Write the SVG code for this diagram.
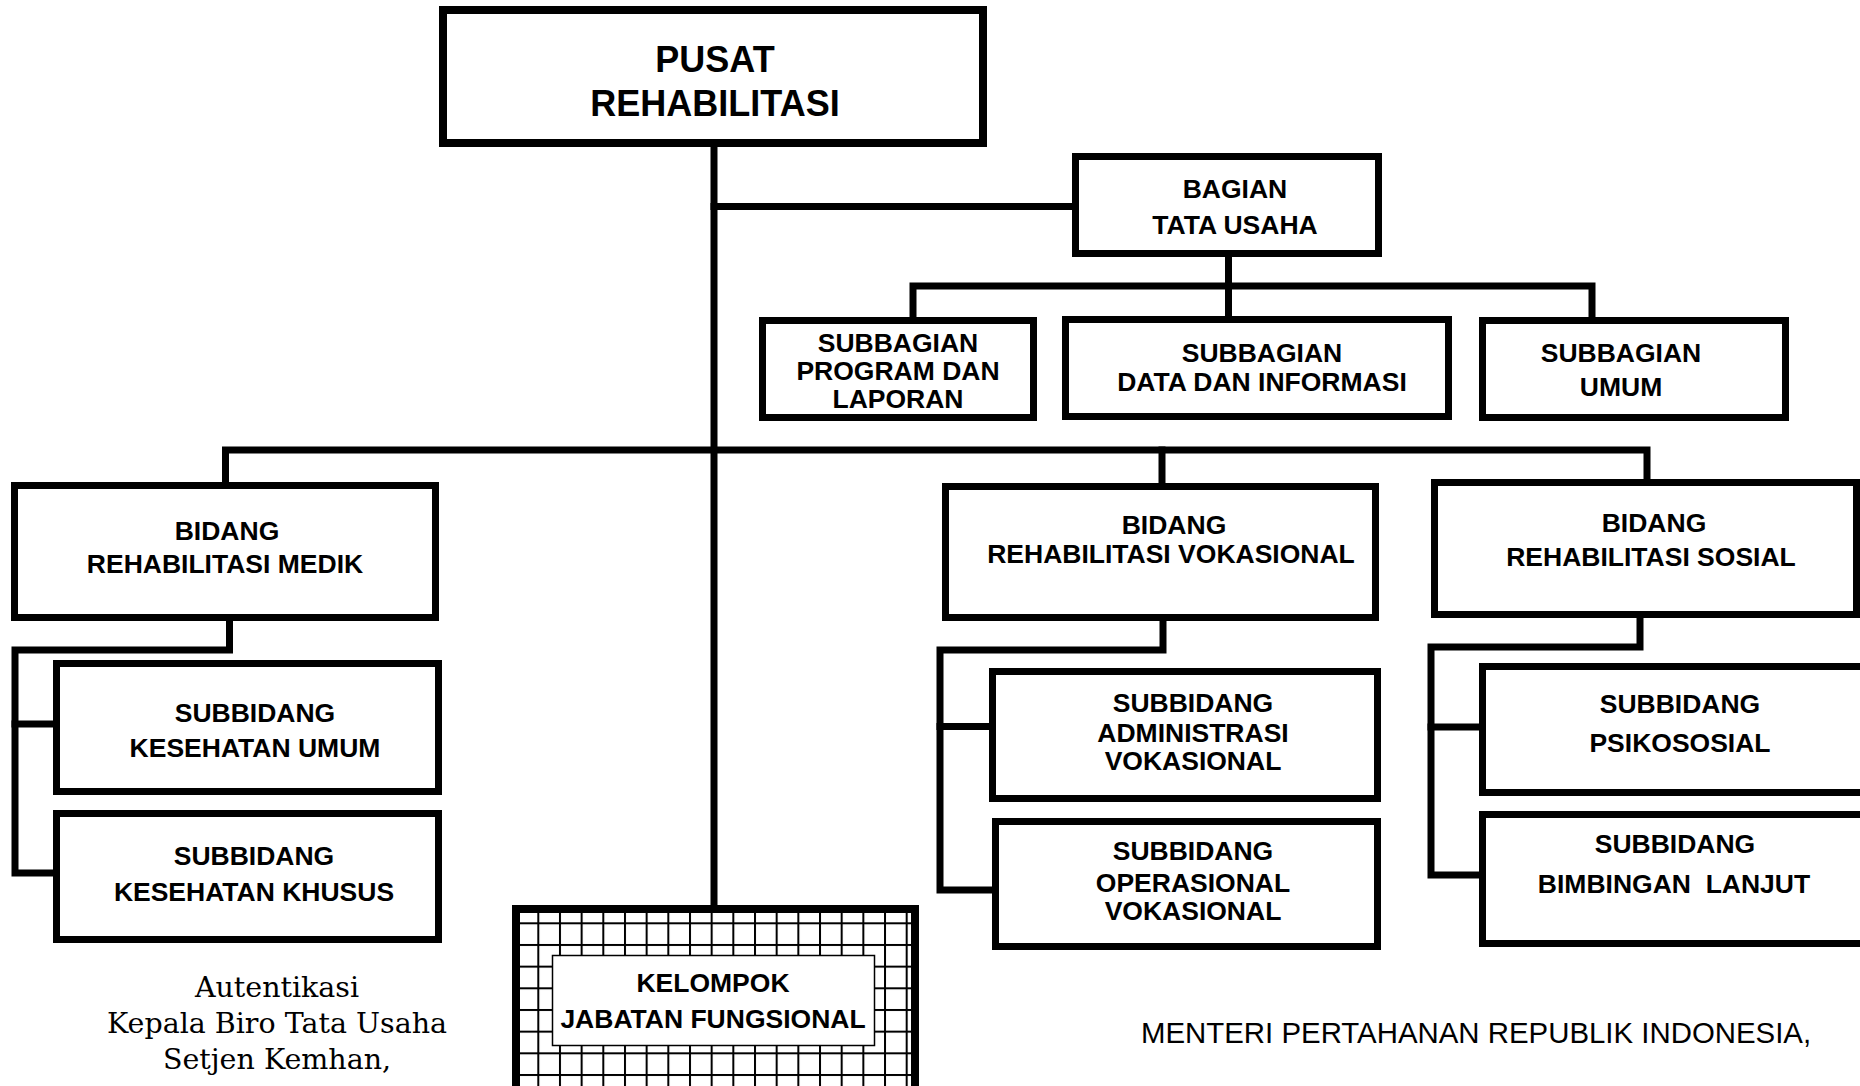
<svg xmlns="http://www.w3.org/2000/svg" width="1860" height="1086" viewBox="0 0 1860 1086">
<style>
.box{fill:#fff;stroke:#000;stroke-width:7}
.lbl{font-family:"Liberation Sans",Arial,sans-serif;font-weight:bold;font-size:26.5px;text-anchor:middle;fill:#000}
.title{font-size:36px}
.con{fill:none;stroke:#000;stroke-width:7;stroke-linecap:square;stroke-linejoin:miter}
.serif{font-family:"DejaVu Serif","Liberation Serif",serif;font-size:28.5px;text-anchor:middle;fill:#000}
.plain{font-family:"Liberation Sans",Arial,sans-serif;font-size:29.4px;fill:#000}
</style>
<defs>
<pattern id="grid" patternUnits="userSpaceOnUse" x="537.3" y="922.3" width="21.67" height="21.67">
<rect x="0" y="0" width="21.67" height="21.67" fill="#fff"/>
<rect x="0" y="0" width="2" height="21.67" fill="#000"/>
<rect x="0" y="0" width="21.67" height="2" fill="#000"/>
</pattern>
</defs>
<rect width="1860" height="1086" fill="#fff"/>
<g id="connectors">
<path class="con" d="M714 147 V909"/>
<path class="con" d="M714 206.5 H1075"/>
<path class="con" d="M1228.5 257 V286"/>
<path class="con" d="M913 317 V286 H1592 V317"/>
<path class="con" d="M1228.5 286 V316"/>
<path class="con" d="M225.5 482 V450 H1647 V479"/>
<path class="con" d="M1162 450 V483"/>
<path class="con" d="M229.5 621 V650 H15 V873 H53"/>
<path class="con" d="M15 724 H53"/>
<path class="con" d="M1163 621 V650 H940 V890 H992"/>
<path class="con" d="M940 726.5 H989"/>
<path class="con" d="M1640 618 V647 H1431 V875 H1479"/>
<path class="con" d="M1431 727 H1479"/>
</g>
<g id="pusat">
<rect class="box" x="443" y="10" width="540" height="133" style="stroke-width:8"/>
<text class="lbl title" x="715" y="72">PUSAT</text>
<text class="lbl title" x="715" y="116">REHABILITASI</text>
</g>
<g id="bagian-tu">
<rect class="box" x="1075.5" y="156.5" width="303" height="97"/>
<text class="lbl" x="1235" y="198">BAGIAN</text>
<text class="lbl" x="1235" y="234">TATA USAHA</text>
</g>
<g id="subbag-program">
<rect class="box" x="762.5" y="320.5" width="271" height="97"/>
<text class="lbl" x="898" y="352">SUBBAGIAN</text>
<text class="lbl" x="898" y="380">PROGRAM DAN</text>
<text class="lbl" x="898" y="408">LAPORAN</text>
</g>
<g id="subbag-data">
<rect class="box" x="1065.5" y="319.5" width="383" height="97"/>
<text class="lbl" x="1262" y="362">SUBBAGIAN</text>
<text class="lbl" x="1262" y="391">DATA DAN INFORMASI</text>
</g>
<g id="subbag-umum">
<rect class="box" x="1482.5" y="320.5" width="303" height="97"/>
<text class="lbl" x="1621" y="362">SUBBAGIAN</text>
<text class="lbl" x="1621" y="396">UMUM</text>
</g>
<g id="bidang-medik">
<rect class="box" x="14.5" y="485.5" width="421" height="132"/>
<text class="lbl" x="227" y="540">BIDANG</text>
<text class="lbl" x="225" y="573">REHABILITASI MEDIK</text>
</g>
<g id="bidang-vokasional">
<rect class="box" x="945.5" y="486.5" width="430" height="131"/>
<text class="lbl" x="1174" y="534">BIDANG</text>
<text class="lbl" x="1171" y="563">REHABILITASI VOKASIONAL</text>
</g>
<g id="bidang-sosial">
<rect class="box" x="1434.5" y="482.5" width="422" height="132"/>
<text class="lbl" x="1654" y="532">BIDANG</text>
<text class="lbl" x="1651" y="566">REHABILITASI SOSIAL</text>
</g>
<g id="subbid-kes-umum">
<rect class="box" x="56.5" y="663.5" width="382" height="128"/>
<text class="lbl" x="255" y="722">SUBBIDANG</text>
<text class="lbl" x="255" y="757">KESEHATAN UMUM</text>
</g>
<g id="subbid-kes-khusus">
<rect class="box" x="56.5" y="813.5" width="382" height="126"/>
<text class="lbl" x="254" y="865">SUBBIDANG</text>
<text class="lbl" x="254" y="901">KESEHATAN KHUSUS</text>
</g>
<g id="subbid-administrasi">
<rect class="box" x="992.5" y="671.5" width="385" height="127"/>
<text class="lbl" x="1193" y="712">SUBBIDANG</text>
<text class="lbl" x="1193" y="742">ADMINISTRASI</text>
<text class="lbl" x="1193" y="770">VOKASIONAL</text>
</g>
<g id="subbid-operasional">
<rect class="box" x="995.5" y="821.5" width="382" height="125"/>
<text class="lbl" x="1193" y="860">SUBBIDANG</text>
<text class="lbl" x="1193" y="892">OPERASIONAL</text>
<text class="lbl" x="1193" y="920">VOKASIONAL</text>
</g>
<g id="subbid-psikososial">
<rect class="box" x="1482.5" y="666.5" width="385" height="126"/>
<text class="lbl" x="1680" y="713">SUBBIDANG</text>
<text class="lbl" x="1680" y="752">PSIKOSOSIAL</text>
</g>
<g id="subbid-bimbingan">
<rect class="box" x="1482.5" y="814.5" width="385" height="129"/>
<text class="lbl" x="1675" y="853">SUBBIDANG</text>
<text class="lbl" x="1674" y="893" xml:space="preserve">BIMBINGAN  LANJUT</text>
</g>
<g id="kelompok-jf">
<rect x="516" y="909" width="399" height="200" fill="url(#grid)" stroke="#000" stroke-width="8"/>
<rect x="552.5" y="955.5" width="322" height="90" fill="#fff" stroke="#000" stroke-width="1.5"/>
<text class="lbl" x="713" y="992">KELOMPOK</text>
<text class="lbl" x="713" y="1028">JABATAN FUNGSIONAL</text>
</g>
<g id="autentikasi">
<text class="serif" x="277" y="997">Autentikasi</text>
<text class="serif" x="277" y="1033">Kepala Biro Tata Usaha</text>
<text class="serif" x="277" y="1069">Setjen Kemhan,</text>
</g>
<g id="menteri">
<text class="plain" x="1141" y="1043">MENTERI PERTAHANAN REPUBLIK INDONESIA,</text>
</g>
</svg>
